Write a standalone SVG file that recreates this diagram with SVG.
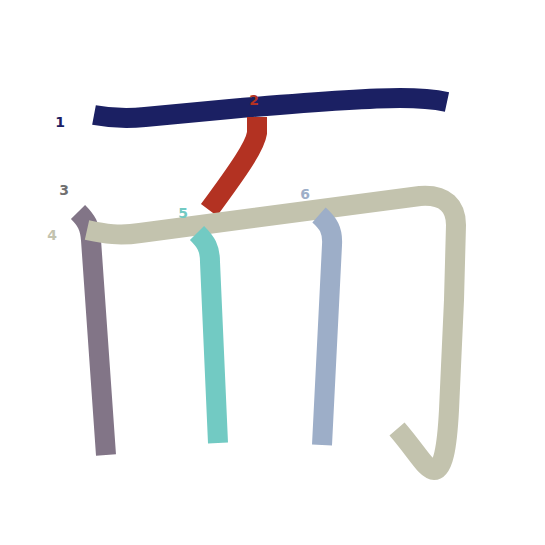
<svg xmlns="http://www.w3.org/2000/svg" width="545" height="545" viewBox="0 0 545 545">
<style>
.s{fill:none;stroke-width:20;stroke-linecap:butt;stroke-linejoin:round}
.n{font-family:"DejaVu Sans",sans-serif;font-weight:bold;font-size:14px;text-anchor:middle}
</style>
<rect width="545" height="545" fill="#fff"/>
<g id="strokes">
<g id="s1"><path class="s" stroke="#1b2063" d="M94,115 C110,118 125,119 145,117 L230,109 C300,103 360,98 400,98 C420,98 433,99 447,102"/></g>
<g id="s2"><path class="s" stroke="#b33222" d="M257,117 L257,133 C255,146 240,168 209,210"/></g>
<g id="s3"><path class="s" stroke="#827587" d="M78,212 C86,220 90,226 91,240 L106,455"/></g>
<g id="s4"><path class="s" stroke="#c3c3ae" d="M87,230 C105,234 120,236 140,233 L420,196 C446,194 456,207 456,225 L454,300 L449,410 C447,448 443,470 434,470 C426,470 417,452 397,429"/></g>
<g id="s5"><path class="s" stroke="#72cac3" d="M197,233 C206,242 210,248 210,262 L218,443"/></g>
<g id="s6"><path class="s" stroke="#9daec8" d="M319,215 C328,223 333,230 332,245 L322,445"/></g>
</g>
<g id="labels">
<text class="n" x="60" y="127" fill="#1b2063">1</text>
<text class="n" x="254" y="105" fill="#b33222">2</text>
<text class="n" x="64" y="195" fill="#707070">3</text>
<text class="n" x="52" y="240" fill="#c3c3ae">4</text>
<text class="n" x="183" y="218" fill="#72cac3">5</text>
<text class="n" x="305" y="199" fill="#9daec8">6</text>
</g>
</svg>
